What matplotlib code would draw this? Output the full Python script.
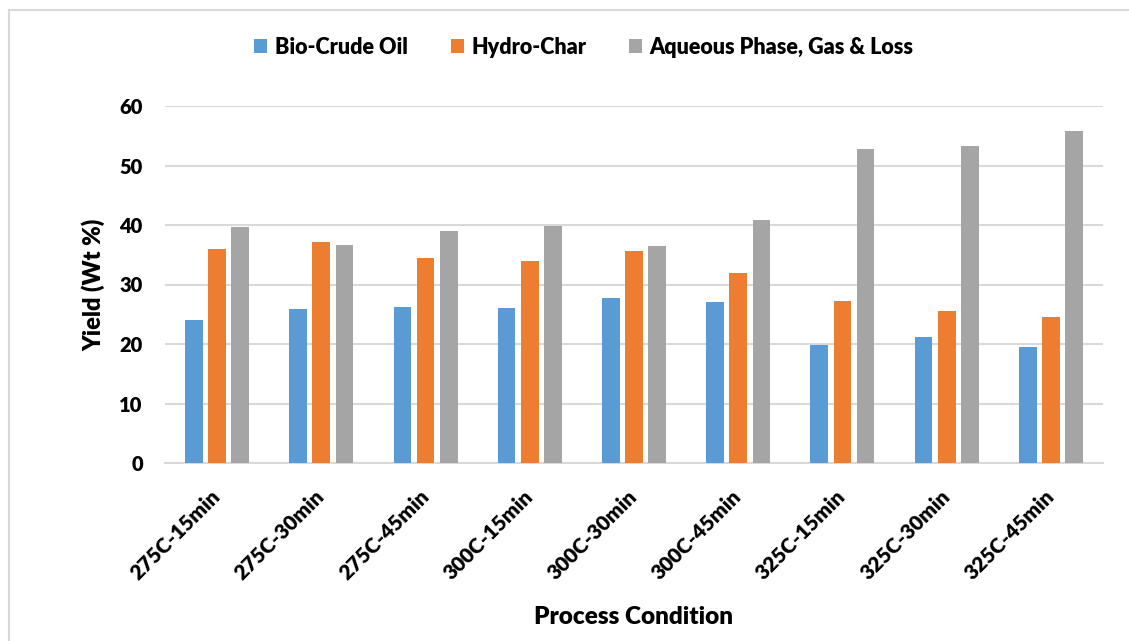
import matplotlib
matplotlib.use("Agg")
import matplotlib.pyplot as plt
import numpy as np
from matplotlib.lines import Line2D

plt.rcParams['font.family'] = ['Lato', 'DejaVu Sans']
plt.rcParams['font.weight'] = 'heavy'

conditions = ["275C-15min", "275C-30min", "275C-45min",
              "300C-15min", "300C-30min", "300C-45min",
              "325C-15min", "325C-30min", "325C-45min"]
bio_crude = [24.1, 25.9, 26.3, 26.0, 27.7, 27.0, 19.8, 21.1, 19.5]
hydro_char = [35.9, 37.1, 34.4, 33.9, 35.7, 31.9, 27.3, 25.5, 24.6]
aqueous = [39.7, 36.7, 39.0, 39.9, 36.5, 40.9, 52.7, 53.3, 55.8]
series_names = ["Bio-Crude Oil", "Hydro-Char", "Aqueous Phase, Gas & Loss"]
colors = ["#5B9BD5", "#ED7D31", "#A5A5A5"]
yticks = [0, 10, 20, 30, 40, 50, 60]

W, H = 1129, 641
fig = plt.figure(figsize=(W / 100, H / 100), dpi=100)
ax = fig.add_axes([165 / W, 1 - 463 / H, (1103 - 165) / W, (463 - 106) / H])

x = np.arange(len(conditions))
step = 0.222
width = 0.17
handles = []
for i, (vals, name, c) in enumerate(zip([bio_crude, hydro_char, aqueous], series_names, colors)):
    b = ax.bar(x + (i - 1) * step, vals, width, color=c, label=name, zorder=3)
    handles.append(b)

ax.set_xlim(-0.5, len(conditions) - 0.5)
ax.set_ylim(0, 60)
ax.set_yticks(yticks)
ax.set_yticklabels([str(v) for v in yticks], fontsize=14.5, fontweight='heavy')
ax.yaxis.grid(True, color='#d9d9d9', linewidth=1.5, zorder=0)
ax.set_axisbelow(True)
for s in ['top', 'right', 'left']:
    ax.spines[s].set_visible(False)
ax.spines['bottom'].set_color('#d9d9d9')
ax.spines['bottom'].set_linewidth(1.5)
ax.tick_params(axis='y', length=0, pad=16)
ax.tick_params(axis='x', length=0, pad=22)

ax.set_xticks(x)
ax.set_xticklabels(conditions, rotation=45, ha='right', va='center',
                   rotation_mode='anchor', fontsize=15, fontweight='heavy')

ax.set_ylabel("Yield (Wt %)", fontsize=17, fontweight='heavy', labelpad=10)
ax.set_xlabel("Process Condition", fontsize=17.5, fontweight='heavy', labelpad=16)

leg = fig.legend(handles=handles, labels=series_names, loc='center',
                 bbox_to_anchor=(584 / W, 1 - 47 / H), ncol=3, frameon=False,
                 fontsize=15.5, handlelength=0.6, handleheight=0.6,
                 handletextpad=0.35, columnspacing=2.0)
for t in leg.get_texts():
    t.set_fontweight('heavy')

# chart border (top and left edges)
fig.add_artist(Line2D([9 / W, 1.0], [1 - 10 / H, 1 - 10 / H], color='#d9d9d9', linewidth=1.5))
fig.add_artist(Line2D([9 / W, 9 / W], [0, 1 - 10 / H], color='#d9d9d9', linewidth=1.5))

fig.savefig("out.png", dpi=100)
